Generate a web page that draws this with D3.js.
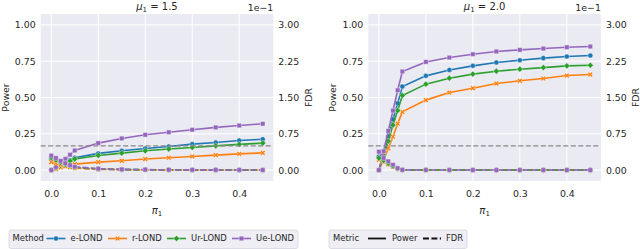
<!DOCTYPE html>
<html>
<head>
<meta charset="utf-8">
<script src="https://cdn.jsdelivr.net/npm/d3@7"></script>
<style>
  body { margin: 0; background: #fff; }
  svg text { font-family: "DejaVu Sans", sans-serif; fill: #262626; }
</style>
</head>
<body>
<svg id="chart" width="640" height="249"></svg>
<script>
// pi_1 grid used in both panels
const piValues = [0, 0.01, 0.02, 0.03, 0.04, 0.05, 0.1, 0.15, 0.2, 0.25, 0.3, 0.35, 0.4, 0.45];
const methods = ['e-LOND', 'r-LOND', 'Ur-LOND', 'Ue-LOND'];
const methodColors = ['#1f77b4', '#ff7f0e', '#2ca02c', '#9467bd'];
const methodMarkers = ['circle', 'x', 'diamond', 'square'];
const muLabels = ['1.5', '2.0'];

// mu1 = 1.5
const powerMu15 = [
  [0, 0.018, 0.036, 0.053, 0.07, 0.085, 0.115, 0.133, 0.149, 0.163, 0.179, 0.19, 0.204, 0.213],
  [0, 0.009, 0.018, 0.026, 0.034, 0.041, 0.055, 0.064, 0.076, 0.085, 0.094, 0.103, 0.112, 0.119],
  [0, 0.016, 0.032, 0.047, 0.062, 0.077, 0.101, 0.117, 0.133, 0.145, 0.156, 0.167, 0.177, 0.186],
  [0, 0.022, 0.047, 0.077, 0.106, 0.135, 0.186, 0.218, 0.243, 0.261, 0.278, 0.294, 0.307, 0.319]
];
const fdrMu15 = [
  [0.023, 0.019, 0.014, 0.010, 0.007, 0.005, 0.002, 0.001, 0.0008, 0.0005, 0.0005, 0.0003, 0.0003, 0.0002],
  [0.0165, 0.014, 0.011, 0.008, 0.006, 0.004, 0.0015, 0.0008, 0.0005, 0.0004, 0.0003, 0.0002, 0.0002, 0.0001],
  [0.026, 0.021, 0.016, 0.012, 0.009, 0.006, 0.0025, 0.0012, 0.0008, 0.0005, 0.0004, 0.0003, 0.0002, 0.0002],
  [0.030, 0.025, 0.019, 0.014, 0.010, 0.007, 0.003, 0.0015, 0.001, 0.0007, 0.0005, 0.0004, 0.0003, 0.0002]
];

// mu1 = 2.0
const powerMu20 = [
  [0, 0.11, 0.23, 0.35, 0.46, 0.576, 0.649, 0.690, 0.718, 0.741, 0.757, 0.771, 0.782, 0.789],
  [0, 0.07, 0.15, 0.23, 0.32, 0.401, 0.482, 0.534, 0.564, 0.596, 0.615, 0.631, 0.651, 0.658],
  [0, 0.10, 0.20, 0.31, 0.41, 0.514, 0.592, 0.633, 0.661, 0.681, 0.695, 0.706, 0.718, 0.722],
  [0, 0.13, 0.27, 0.41, 0.55, 0.679, 0.745, 0.775, 0.798, 0.817, 0.828, 0.837, 0.846, 0.851]
];
const fdrMu20 = [
  [0.028, 0.022, 0.015, 0.009, 0.003, 0.0005, 0.0003, 0.0002, 0.0002, 0.0001, 0.0001, 0.0001, 0.0001, 0.0001],
  [0.021, 0.017, 0.012, 0.007, 0.0025, 0.0003, 0.0002, 0.0002, 0.0001, 0.0001, 0.0001, 0.0001, 0.0001, 0.0001],
  [0.025, 0.020, 0.014, 0.008, 0.003, 0.0004, 0.0003, 0.0002, 0.0002, 0.0001, 0.0001, 0.0001, 0.0001, 0.0001],
  [0.038, 0.025, 0.018, 0.011, 0.004, 0.0005, 0.0003, 0.0002, 0.0002, 0.0001, 0.0001, 0.0001, 0.0001, 0.0001]
];

const xTicks = [0, 0.1, 0.2, 0.3, 0.4];
const powerTicks = [0, 0.25, 0.5, 0.75, 1.0];
const fdrTicks = [0, 0.075, 0.15, 0.225, 0.3];
const fdrTarget = 0.05;

const panels = [
  {left: 40.7, mu: muLabels[0], power: powerMu15, fdr: fdrMu15},
  {left: 368.3, mu: muLabels[1], power: powerMu20, fdr: fdrMu20}
];

const svg = d3.select('#chart');
const plotTop = 14, pw = 232.6, ph = 167;
const bg = '#EAEAF2';

const x = d3.scaleLinear().domain([-0.0225, 0.4725]).range([0, pw]);
const y = d3.scaleLinear().domain([-0.075, 1.075]).range([ph, 0]);
const yF = d3.scaleLinear().domain([-0.075 * 0.3, 1.075 * 0.3]).range([ph, 0]);

function markerPath(type) {
  if (type === 'circle') return d3.symbol(d3.symbolCircle, 20)();
  if (type === 'diamond') return 'M0,-3.1L3.1,0L0,3.1L-3.1,0Z';
  if (type === 'square') return 'M-2.3,-2.3H2.3V2.3H-2.3Z';
  // filled X
  return 'M-2.6,-1.4L-1.4,-2.6L0,-1.2L1.4,-2.6L2.6,-1.4L1.2,0L2.6,1.4L1.4,2.6L0,1.2L-1.4,2.6L-2.6,1.4L-1.2,0Z';
}

function drawSeries(g, values, scaleY, color, marker, dash) {
  const pts = piValues.map((p, i) => [x(p), scaleY(values[i])]);
  g.append('path')
    .attr('d', d3.line()(pts))
    .attr('fill', 'none')
    .attr('stroke', color)
    .attr('stroke-width', 1.6)
    .attr('stroke-dasharray', dash ? '6,2.4' : null);
  g.selectAll(null)
    .data(pts)
    .enter().append('path')
    .attr('transform', d => `translate(${d[0]},${d[1]})`)
    .attr('d', markerPath(marker))
    .attr('fill', color)
    .attr('stroke', '#fff')
    .attr('stroke-width', 0.4);
}

panels.forEach(function(p) {
  const g = svg.append('g').attr('transform', `translate(${p.left},${plotTop})`);

  g.append('rect').attr('width', pw).attr('height', ph).attr('fill', bg);

  // grid
  g.selectAll('.gx').data(xTicks).enter().append('line')
    .attr('x1', d => x(d)).attr('x2', d => x(d))
    .attr('y1', 0).attr('y2', ph)
    .attr('stroke', '#fff').attr('stroke-width', 1);
  g.selectAll('.gy').data(powerTicks).enter().append('line')
    .attr('y1', d => y(d)).attr('y2', d => y(d))
    .attr('x1', 0).attr('x2', pw)
    .attr('stroke', '#fff').attr('stroke-width', 1);

  // axes
  const ax = g.append('g').attr('transform', `translate(0,${ph})`)
    .call(d3.axisBottom(x).tickValues(xTicks).tickSize(0).tickPadding(9).tickFormat(d3.format('.1f')));
  const ayl = g.append('g')
    .call(d3.axisLeft(y).tickValues(powerTicks).tickSize(0).tickPadding(5).tickFormat(d3.format('.2f')));
  const ayr = g.append('g').attr('transform', `translate(${pw},0)`)
    .call(d3.axisRight(yF).tickValues(fdrTicks).tickSize(0).tickPadding(5).tickFormat(d => (d * 10).toFixed(2)));
  [ax, ayl, ayr].forEach(a => {
    a.select('.domain').remove();
    a.selectAll('text').attr('font-size', 9.4).attr('fill', '#333').attr('font-family', 'DejaVu Sans');
  });

  // power (solid)
  p.power.forEach((vals, i) => drawSeries(g, vals, y, methodColors[i], methodMarkers[i], false));
  // fdr (dashed)
  p.fdr.forEach((vals, i) => drawSeries(g, vals, yF, methodColors[i], methodMarkers[i], true));

  // FDR target level
  g.append('line')
    .attr('x1', 0).attr('x2', pw)
    .attr('y1', yF(fdrTarget)).attr('y2', yF(fdrTarget))
    .attr('stroke', '#888').attr('stroke-width', 1.3).attr('stroke-dasharray', '5,2.5');

  // title
  const t = g.append('text').attr('x', pw / 2).attr('y', -4).attr('text-anchor', 'middle').attr('font-size', 10);
  t.append('tspan').attr('font-style', 'italic').text('μ');
  t.append('tspan').attr('font-size', 7).attr('dy', 2).text('1');
  t.append('tspan').attr('dy', -2).text(' = ' + p.mu);

  // offset text
  g.append('text').attr('x', pw).attr('y', -3).attr('text-anchor', 'end')
    .attr('font-size', 9.4).attr('fill', '#333').text('1e\u22121');

  // axis labels
  g.append('text').attr('transform', `translate(${-32},${ph / 2}) rotate(-90)`)
    .attr('text-anchor', 'middle').attr('font-size', 9.4).text('Power');
  g.append('text').attr('transform', `translate(${pw + 35},${ph / 2}) rotate(-90)`)
    .attr('text-anchor', 'middle').attr('dy', '0.35em').attr('font-size', 9.4).text('FDR');
  const xl = g.append('text').attr('x', pw / 2).attr('y', ph + 33).attr('text-anchor', 'middle').attr('font-size', 10);
  xl.append('tspan').attr('font-style', 'italic').text('π');
  xl.append('tspan').attr('font-size', 7).attr('dy', 2).text('1');
});

// legends
const legendY = 238.5;
function legendBox(x0, x1) {
  svg.append('rect').attr('x', x0).attr('y', 230).attr('width', x1 - x0).attr('height', 18.5)
    .attr('rx', 2).attr('fill', '#EEEEF4').attr('stroke', '#d6d6de').attr('stroke-width', 0.8);
}
legendBox(9, 298);
svg.append('text').attr('x', 12.5).attr('y', legendY).attr('dy', '0.35em').attr('font-size', 8.4).text('Method');
const methodLegendX = [46.5, 108, 167, 232];
methods.forEach(function(m, i) {
  const lx = methodLegendX[i];
  svg.append('line').attr('x1', lx).attr('x2', lx + 19).attr('y1', legendY).attr('y2', legendY)
    .attr('stroke', methodColors[i]).attr('stroke-width', 1.6);
  svg.append('path').attr('transform', `translate(${lx + 9.5},${legendY})`)
    .attr('d', markerPath(methodMarkers[i])).attr('fill', methodColors[i])
    .attr('stroke', '#fff').attr('stroke-width', 0.4);
  svg.append('text').attr('x', lx + 24).attr('y', legendY).attr('dy', '0.35em').attr('font-size', 8.4).text(m);
});

legendBox(329, 467);
svg.append('text').attr('x', 333).attr('y', legendY).attr('dy', '0.35em').attr('font-size', 8.4).text('Metric');
svg.append('line').attr('x1', 368).attr('x2', 386).attr('y1', legendY).attr('y2', legendY)
  .attr('stroke', '#111').attr('stroke-width', 1.8);
svg.append('text').attr('x', 392).attr('y', legendY).attr('dy', '0.35em').attr('font-size', 8.4).text('Power');
svg.append('line').attr('x1', 423).attr('x2', 441).attr('y1', legendY).attr('y2', legendY)
  .attr('stroke', '#111').attr('stroke-width', 1.8).attr('stroke-dasharray', '6,2.4');
svg.append('text').attr('x', 446).attr('y', legendY).attr('dy', '0.35em').attr('font-size', 8.4).text('FDR');
</script>
</body>
</html>
